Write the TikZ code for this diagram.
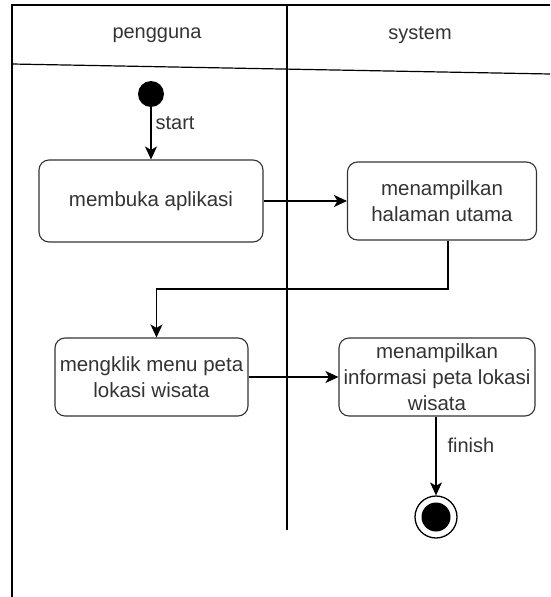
\documentclass[tikz,border=0pt]{standalone}
\usepackage{fontspec}
\setmainfont{Liberation Sans}
\usetikzlibrary{arrows.meta,calc}
\definecolor{txt}{HTML}{333333}
\tikzset{
  act/.style={draw=txt, line width=1.1pt, rounded corners=10pt, align=center, text=txt,
    font=\fontsize{20.5}{26}\selectfont, inner sep=2pt},
  lane/.style={draw=black, line width=1.2pt},
  flow/.style={draw=black, line width=1.2pt, -{Stealth[length=13pt,width=12pt,inset=3.5pt]}},
  lbl/.style={text=txt, font=\fontsize{20}{24}\selectfont, inner sep=0pt},
}
\begin{document}
\begin{tikzpicture}[x=1pt,y=-1pt]
\useasboundingbox (0,0) rectangle (550,597);
% swimlanes
\draw[lane] (12,597) -- (12,5) -- (550,5);
\draw[lane] (287,5) -- (287,530);
\draw[lane] (12,64) -- (550,74);
\node[lbl] (hp) at (157,35) {pengguna};
\node[lbl] (hs) at (420,35) {system};
% start
\node[circle, fill=black, minimum size=26pt, inner sep=0pt] (start) at (151,94) {};
% activities
\node[act, minimum width=224pt, minimum height=82pt] (b1) at (151,201) {membuka aplikasi};
\node[act, minimum width=189pt, minimum height=78pt] (b2) at (442,201) {menampilkan\\halaman utama};
\node[act, minimum width=193pt, minimum height=78pt] (b3) at (151.5,377) {mengklik menu peta\\lokasi wisata};
\node[act, minimum width=196pt, minimum height=78pt, inner sep=0pt] (b4) at (437,377) {menampilkan\\informasi peta lokasi\\wisata};
% end
\node[circle, draw=black, line width=1.3pt, minimum size=42pt, inner sep=0pt] (end) at (436,517) {};
\node[circle, fill=black, minimum size=29pt, inner sep=0pt] (endin) at (end.center) {};
% flows
\draw[flow] (start) -- node[lbl, right=4pt, pos=0.3] (ls) {start} (b1);
\draw[flow] (b1) -- (b2);
\coordinate (k1) at ([xshift=6pt]b2.south);
\coordinate (k2) at ([xshift=5pt]b3.north);
\draw[flow] (k1) -- (k1 |- 0,289) -- (k2 |- 0,289) -- (k2);
\draw[flow] (b3) -- (b4);
\draw[flow] (b4.south -| end) -- node[lbl, right=11pt, pos=0.36] (lf) {finish} (end);
\end{tikzpicture}
\end{document}
